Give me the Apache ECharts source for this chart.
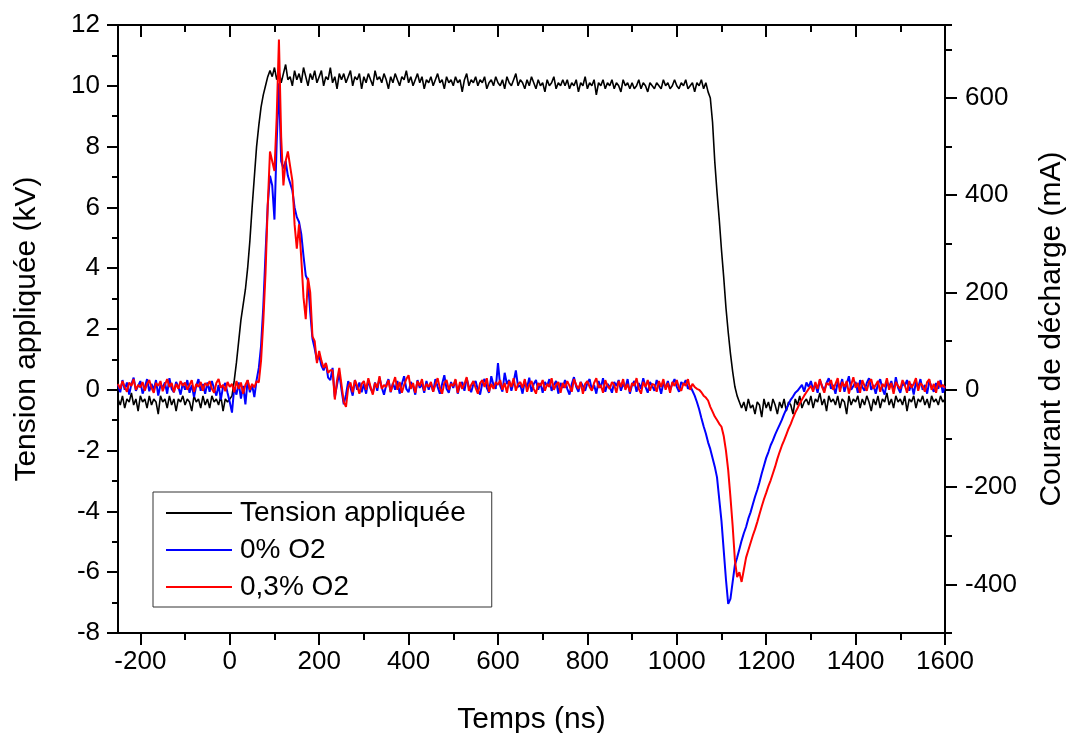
<!DOCTYPE html>
<html>
<head>
<meta charset="utf-8">
<script src="https://cdn.jsdelivr.net/npm/echarts@6/dist/echarts.min.js"></script>
<style>html,body{margin:0;padding:0;background:#fff;overflow:hidden}#c{width:1068px;height:733px}</style>
</head>
<body>
<div id="c"></div>
<script>
// Sampling of the recorded traces (ns)
const T_START = -250;
const T_STEP = 5;

// Tension appliquée (kV), left axis
const tension = [
-0.3,-0.5,-0.2,-0.6,-0.3,-0.4,-0.1,-0.5,-0.3,-0.7,
-0.2,-0.4,-0.3,-0.6,-0.2,-0.5,-0.3,-0.4,-0.8,-0.2,
-0.4,-0.3,-0.6,-0.2,-0.5,-0.3,-0.7,-0.3,-0.4,-0.2,
-0.5,-0.3,-0.4,-0.7,-0.2,-0.4,-0.3,-0.6,-0.2,-0.5,
-0.3,-0.6,-0.2,-0.4,-0.3,-0.5,-0.2,-0.7,-0.3,-0.4,
-0.3,-0.2,0.3,0.9,1.6,2.3,2.8,3.3,4.0,4.9,
6.0,7.0,8.0,8.7,9.3,9.7,10.0,10.3,10.5,10.3,
10.6,10.2,10.5,10.1,10.4,10.7,10.2,10.3,10.0,10.5,
10.2,10.4,10.1,10.6,10.3,10.0,10.4,10.2,10.5,10.1,
10.3,10.5,10.0,10.3,10.2,10.6,10.1,10.3,9.9,10.4,
10.2,10.4,10.1,10.3,10.5,10.0,10.3,10.2,10.4,9.9,
10.3,10.1,10.4,10.2,10.0,10.5,10.2,10.3,10.1,10.4,
10.2,9.9,10.3,10.1,10.4,10.2,10.0,10.3,10.2,10.5,
10.1,10.3,10.0,10.2,10.4,10.1,10.3,9.9,10.2,10.1,
10.3,10.0,10.2,10.4,10.1,10.2,9.9,10.3,10.1,10.2,
10.0,10.3,10.1,10.2,9.8,10.2,10.4,10.0,10.2,10.1,
10.3,10.0,10.2,10.1,10.3,9.9,10.1,10.2,10.0,10.3,
10.1,10.0,10.2,9.9,10.3,10.1,10.0,10.2,10.4,10.0,
10.2,10.1,9.9,10.2,10.0,10.3,10.1,9.9,10.2,10.0,
10.1,9.8,10.2,10.0,10.1,10.3,9.9,10.1,10.0,10.2,
10.0,10.2,9.9,10.1,10.0,10.2,9.8,10.1,10.0,10.3,
9.9,10.1,10.0,10.2,9.7,10.1,10.0,10.2,9.9,10.1,
10.0,10.2,9.9,10.1,10.0,9.8,10.2,10.0,10.1,9.9,
10.1,9.9,10.0,10.2,9.9,10.1,10.0,9.8,10.1,10.0,
9.9,10.1,10.0,9.9,10.2,10.0,10.1,9.9,10.0,10.2,
10.0,9.9,10.1,10.0,10.2,9.9,10.0,10.1,9.8,10.1,
10.0,10.2,9.9,10.1,9.8,9.6,8.8,7.5,6.5,5.6,
4.6,3.7,2.7,1.9,1.2,0.6,0.1,-0.2,-0.4,-0.6,
-0.4,-0.7,-0.3,-0.6,-0.5,-0.8,-0.4,-0.5,-0.9,-0.3,
-0.6,-0.4,-0.7,-0.3,-0.5,-0.8,-0.4,-0.6,-0.3,-0.7,
-0.4,-0.5,-0.8,-0.3,-0.5,-0.2,-0.6,-0.4,-0.3,-0.5,
-0.2,-0.6,-0.3,-0.4,-0.1,-0.5,-0.3,-0.7,-0.2,-0.4,
-0.3,-0.5,-0.2,-0.6,-0.3,-0.4,-0.8,-0.2,-0.5,-0.3,
-0.4,-0.2,-0.6,-0.3,-0.5,-0.2,-0.4,-0.7,-0.3,-0.5,
-0.2,-0.6,-0.3,-0.4,-0.1,-0.5,-0.3,-0.6,-0.2,-0.4,
-0.3,-0.5,-0.2,-0.7,-0.3,-0.4,-0.2,-0.6,-0.3,-0.4,
-0.2,-0.5,-0.3,-0.6,-0.2,-0.4,-0.3,-0.5,-0.2,-0.4,
-0.3
];

// Courant de décharge (mA), 0% O2, right axis
const courant0 = [
10,-5,20,0,15,-10,12,25,-2,8,
18,-8,5,22,-3,12,0,20,-12,10,
5,15,-8,24,2,-5,16,6,-10,14,
0,20,-6,10,-15,8,22,-2,12,-8,
15,-4,18,2,-12,10,-20,6,14,-6,
-25,-47,5,-10,15,-18,8,-30,20,-5,
10,-15,20,45,90,170,280,380,440,420,
350,510,630,470,455,470,440,425,410,375,
355,345,320,275,235,225,160,105,85,60,
70,50,40,55,25,20,45,-15,10,35,
0,-30,-10,18,5,-12,20,0,15,-5,
12,-8,20,2,-6,15,-2,25,5,-10,
10,22,-5,14,0,18,-8,12,28,2,
-5,16,8,-10,20,4,12,-6,18,0,
14,-4,22,6,-8,12,30,2,-6,16,
4,20,-8,10,16,-2,24,6,-5,12,
18,0,-10,14,22,4,-6,28,10,2,
55,8,-4,35,12,20,-2,16,40,6,
10,-8,18,4,25,-4,12,20,0,14,
-6,16,8,22,-2,10,18,-8,14,4,
20,2,-10,12,26,6,-4,16,8,-2,
14,22,0,10,-8,18,4,24,-4,12,
6,-6,16,8,20,-2,12,4,22,-8,
10,18,-4,14,2,24,6,-6,16,8,
-2,20,10,-8,14,4,18,0,12,22,
6,-4,16,10,20,2,8,-2,-12,-25,
-40,-58,-75,-90,-108,-122,-140,-158,-180,-225,
-270,-330,-390,-440,-430,-395,-360,-345,-328,-310,
-295,-282,-265,-252,-236,-220,-206,-190,-172,-156,
-140,-128,-114,-104,-92,-82,-72,-62,-50,-40,
-30,-20,-14,-6,-2,4,10,-4,15,6,
18,0,12,-6,20,8,-2,14,24,2,
10,-8,16,4,22,-4,12,28,0,8,
16,-6,20,6,-2,14,24,0,10,-8,
12,22,2,-10,16,6,18,-4,26,4,
-6,14,8,20,-2,12,-10,16,4,22,
0,10,-8,18,6,-4,14,2,20,-6,
8
];

// Courant de décharge (mA), 0,3% O2, right axis
const courant03 = [
12,2,18,6,-4,15,8,22,0,10,
5,16,-2,12,20,4,-6,14,8,18,
-3,10,22,6,14,-5,12,2,18,8,
15,0,10,20,-4,12,6,16,-2,14,
8,18,2,-6,14,22,4,10,-3,16,
6,12,-5,18,2,15,-8,10,20,0,
12,5,18,15,60,140,240,380,490,470,
450,560,720,520,420,470,490,460,430,340,
290,340,270,190,145,230,200,110,100,55,
80,60,45,55,35,40,40,-20,20,45,
10,-25,-35,5,15,-5,20,8,-8,12,
18,0,24,6,-10,14,4,28,2,10,
6,20,-4,12,26,0,16,-6,10,22,
30,2,14,-6,18,8,22,-2,12,6,
16,-4,10,24,4,-8,14,20,0,12,
8,22,-6,16,2,12,26,-2,10,18,
4,-8,14,20,6,24,-4,12,2,16,
10,20,0,14,-6,18,6,24,-2,12,
16,4,22,-4,10,18,2,-8,14,8,
20,-2,12,6,24,0,10,16,-6,14,
4,18,8,-4,22,10,2,16,-8,12,
18,6,-2,14,24,4,10,-6,20,8,
2,16,10,-6,18,6,22,0,12,-4,
14,8,24,2,-8,16,6,20,-2,12,
10,-4,18,6,22,0,14,-6,16,8,
20,4,-2,14,8,22,0,12,6,2,
0,-5,-12,-16,-22,-35,-45,-55,-62,-70,
-76,-95,-125,-165,-220,-280,-350,-385,-375,-395,
-370,-345,-330,-315,-300,-287,-272,-256,-240,-225,
-212,-198,-186,-172,-158,-142,-128,-115,-104,-92,
-80,-70,-58,-47,-38,-28,-20,-12,-5,2,
8,-4,16,2,22,6,-6,14,10,20,
0,12,24,-4,16,6,18,-8,10,26,
4,14,-6,20,8,-2,16,22,2,10,
18,-4,12,6,24,0,14,-8,16,8,
2,20,10,-6,18,4,12,24,-2,14,
8,-4,16,22,0,12,-6,18,6,10,
4
];

const seriesNames = ['Tension appliquée', '0% O2', '0,3% O2'];
const xMajorTicks = [-200, 0, 200, 400, 600, 800, 1000, 1200, 1400, 1600];
const xMinorTicks = [-100, 100, 300, 500, 700, 900, 1100, 1300, 1500];
const yRightMajorTicks = [-400, -200, 0, 200, 400, 600];

const FONT = "'Liberation Sans', Arial, sans-serif";
const toPairs = arr => arr.map((v, i) => [T_START + i * T_STEP, v]);
const plain = v => String(v);

const blackLine = { color: '#000', width: 2 };
const tickStyle = { color: '#000', width: 2 };

const chart = echarts.init(document.getElementById('c'), null, { renderer: 'canvas' });
chart.setOption({
  animation: false,
  backgroundColor: '#fff',
  grid: { left: 118, right: 123, top: 25, bottom: 100, containLabel: false, outerBoundsMode: 'none' },
  legend: {
    orient: 'vertical',
    left: 153, top: 492,
    data: seriesNames,
    icon: 'rect',
    itemWidth: 66, itemHeight: 2,
    itemGap: 7,
    padding: [6, 26, 5, 13],
    borderColor: '#333', borderWidth: 1,
    backgroundColor: '#fff',
    textStyle: { fontFamily: FONT, fontSize: 28, color: '#000', lineHeight: 30, padding: [0, 0, 0, 3] },
    selectedMode: false
  },
  xAxis: [
    {
      type: 'value', position: 'bottom', min: -250, max: 1600,
      axisLine: { show: true, onZero: false, lineStyle: blackLine },
      axisTick: { show: true, customValues: xMajorTicks, length: 12, lineStyle: tickStyle },
      axisLabel: { customValues: xMajorTicks, formatter: plain, fontFamily: FONT, fontSize: 26, color: '#000', margin: 16 },
      splitLine: { show: false },
      name: 'Temps (ns)', nameLocation: 'middle', nameGap: 72,
      nameTextStyle: { fontFamily: FONT, fontSize: 30, color: '#000' }
    },
    {
      type: 'value', position: 'bottom', min: -250, max: 1600,
      axisLine: { show: false, onZero: false },
      axisTick: { show: true, customValues: xMinorTicks, length: 7, lineStyle: tickStyle },
      axisLabel: { show: false }, splitLine: { show: false }
    },
    {
      type: 'value', position: 'top', min: -250, max: 1600,
      axisLine: { show: true, onZero: false, lineStyle: blackLine },
      axisTick: { show: true, inside: true, customValues: xMajorTicks, length: 12, lineStyle: tickStyle },
      axisLabel: { show: false }, splitLine: { show: false }
    },
    {
      type: 'value', position: 'top', min: -250, max: 1600,
      axisLine: { show: false, onZero: false },
      axisTick: { show: true, inside: true, customValues: xMinorTicks, length: 7, lineStyle: tickStyle },
      axisLabel: { show: false }, splitLine: { show: false }
    }
  ],
  yAxis: [
    {
      type: 'value', position: 'left', min: -8, max: 12, interval: 2,
      axisLine: { show: true, onZero: false, lineStyle: blackLine },
      axisTick: { show: true, length: 11, lineStyle: tickStyle },
      minorTick: { show: true, splitNumber: 2, length: 6, lineStyle: tickStyle },
      axisLabel: { formatter: plain, fontFamily: FONT, fontSize: 26, color: '#000', margin: 18 },
      splitLine: { show: false }, minorSplitLine: { show: false },
      name: 'Tension appliquée (kV)', nameLocation: 'middle', nameRotate: 90, nameGap: 76,
      nameTextStyle: { fontFamily: FONT, fontSize: 30, color: '#000' }
    },
    {
      type: 'value', position: 'right', min: -500, max: 750,
      axisLine: { show: true, onZero: false, lineStyle: blackLine },
      axisTick: { show: true, customValues: yRightMajorTicks, length: 12, lineStyle: tickStyle },
      axisLabel: { customValues: yRightMajorTicks, formatter: plain, fontFamily: FONT, fontSize: 26, color: '#000', margin: 20 },
      splitLine: { show: false },
      name: 'Courant de décharge (mA)', nameLocation: 'middle', nameRotate: 90, nameGap: 92,
      nameTextStyle: { fontFamily: FONT, fontSize: 30, color: '#000' }
    },
    {
      type: 'value', position: 'right', min: -500, max: 750, interval: 100,
      axisLine: { show: false, onZero: false },
      axisTick: { show: true, length: 7, lineStyle: tickStyle },
      axisLabel: { show: false }, splitLine: { show: false }
    }
  ],
  series: [
    {
      name: seriesNames[0], type: 'line', xAxisIndex: 0, yAxisIndex: 0,
      data: toPairs(tension), showSymbol: false, symbol: 'none',
      color: '#000', lineStyle: { color: '#000', width: 1.6 }, z: 2
    },
    {
      name: seriesNames[1], type: 'line', xAxisIndex: 0, yAxisIndex: 1,
      data: toPairs(courant0), showSymbol: false, symbol: 'none',
      color: '#0000ff', lineStyle: { color: '#0000ff', width: 2 }, z: 3
    },
    {
      name: seriesNames[2], type: 'line', xAxisIndex: 0, yAxisIndex: 1,
      data: toPairs(courant03), showSymbol: false, symbol: 'none',
      color: '#ff0000', lineStyle: { color: '#ff0000', width: 2 }, z: 4
    }
  ]
});
</script>
</body>
</html>
